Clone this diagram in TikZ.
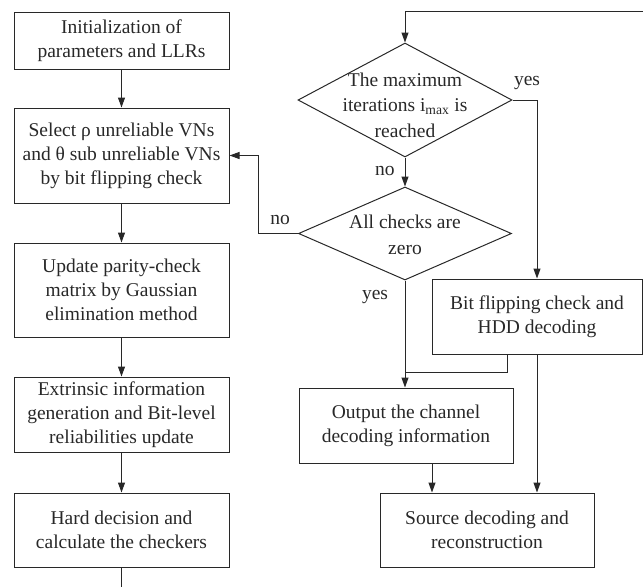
\documentclass[tikz,border=0pt]{standalone}
\usepackage{fontspec}
\setmainfont{Liberation Serif}
\usetikzlibrary{shapes.geometric,arrows.meta}
\definecolor{ink}{RGB}{40,40,40}
\begin{document}
\begin{tikzpicture}[x=1pt,y=-1pt,
  every node/.style={text=ink,font=\fontsize{19.5}{24}\selectfont},
  proc/.style={draw=ink,line width=1pt,rectangle,align=center,inner sep=0pt},
  dec/.style={draw=ink,line width=1pt,diamond,align=center,inner sep=0pt,aspect=1.8},
  dtext/.style={inner sep=0pt,align=center,font=\fontsize{19.5}{25.5}\selectfont},
  conn/.style={draw=ink,line width=1pt},
  arr/.style={conn,-{Triangle[length=10pt,width=7pt]}},
  lbl/.style={inner sep=0pt}]
\useasboundingbox (0,0) rectangle (643,587);
% left column
\node[proc,minimum width=215pt,minimum height=57pt] (init) at (121.5,40.5) {Initialization of\\parameters and LLRs};
\node[proc,minimum width=215pt,minimum height=95pt] (sel) at (121.5,155.5) {Select ρ unreliable VNs\\and θ sub unreliable VNs\\by bit flipping check};
\node[proc,minimum width=215pt,minimum height=94pt] (upd) at (121.5,290) {Update parity-check\\matrix by Gaussian\\elimination method};
\node[proc,minimum width=215pt,minimum height=75pt] (ext) at (121.5,414.5) {Extrinsic information\\generation and Bit-level\\reliabilities update};
\node[proc,minimum width=215pt,minimum height=74pt] (hard) at (121.5,530) {Hard decision and\\calculate the checkers};
\coordinate (hardout) at (121.5,587);
% right column
\node[dec,minimum width=214pt,minimum height=114pt] (max) at (405,100) {};
\node[dtext] (maxt) at (405,105) {The maximum\\iterations i\textsubscript{max} is\\reached};
\node[dec,minimum width=213pt,minimum height=93pt] (chk) at (405,233.5) {};
\node[dtext] (chkt) at (405,235) {All checks are\\zero};
\node[proc,minimum width=210pt,minimum height=75pt] (bit) at (537,316.5) {Bit flipping check and\\HDD decoding};
\node[proc,minimum width=214pt,minimum height=75pt] (out) at (406,425.5) {Output the channel\\decoding information};
\node[proc,minimum width=214pt,minimum height=74pt] (src) at (487,530) {Source decoding and\\reconstruction};
\coordinate (topin) at (643,11);
% connectors left
\draw[arr] (init) -- (sel);
\draw[arr] (sel) -- (upd);
\draw[arr] (upd) -- (ext);
\draw[arr] (ext) -- (hard);
\draw[conn] (hard) -- (hardout);
% connectors right
\draw[arr] (topin) -| (max.north);
\draw[arr] (max.south) -- node[lbl,pos=0.45,left=10pt] {no} (chk.north);
\draw[arr] (max.east) -| (bit.north);
\node[lbl] at (527,83) {yes};
\draw[arr] (chk.west) -| (258,233.5) |- (sel.east);
\node[lbl] at (280,220) {no};
\draw[arr] (chk.south) -- (out.north -| chk.south);
\node[lbl] at (375,297) {yes};
\draw[conn] (507,354) -- (507,372) -- (405,372);
\draw[arr] (out.south -| 432,0) -- (src.north -| 432,0);
\draw[arr] (bit.south) -- (src.north -| bit.south);
\end{tikzpicture}
\end{document}
